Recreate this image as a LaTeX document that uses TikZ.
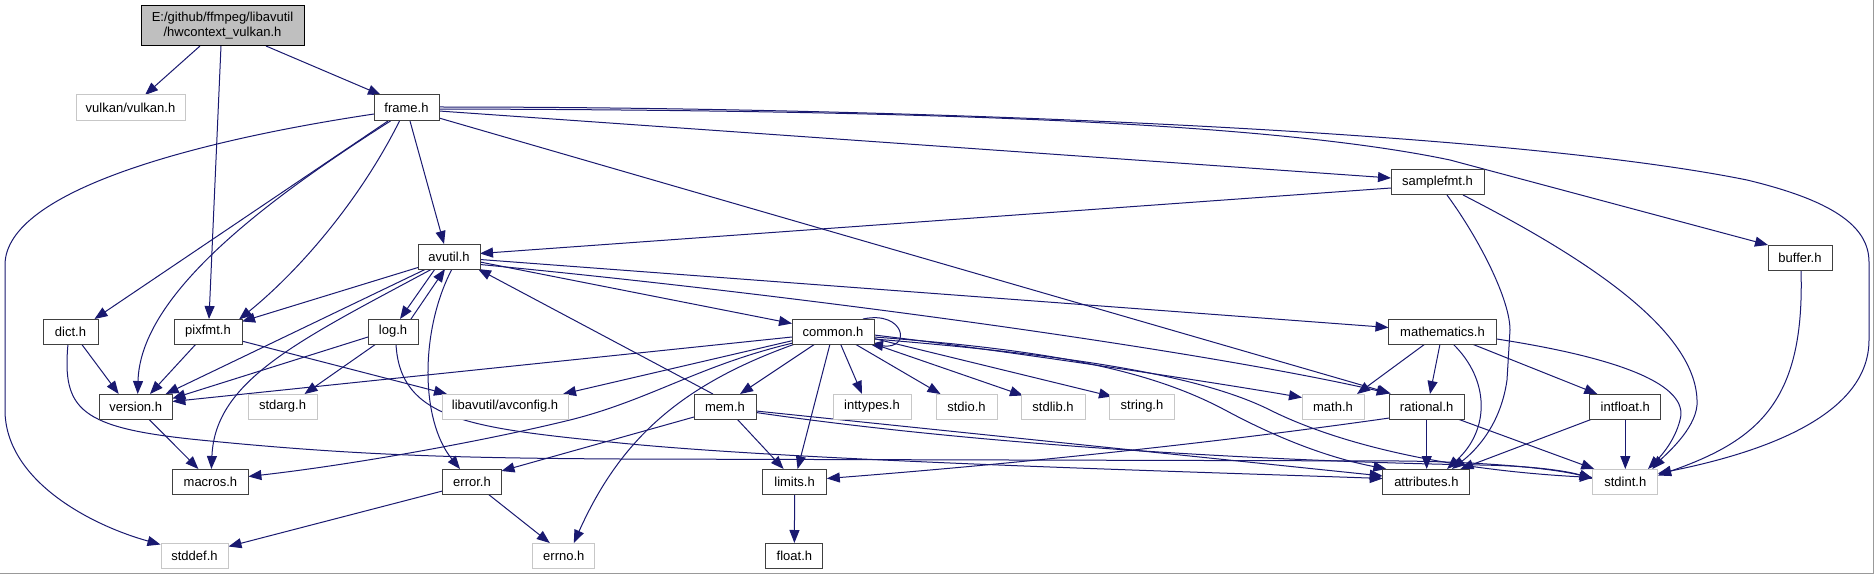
\documentclass[tikz,border=0pt]{standalone}
\usepackage{fontspec}
\setmainfont{Liberation Sans}
\usetikzlibrary{arrows.meta,calc,backgrounds}
\definecolor{edgec}{HTML}{191970}
\tikzset{
  box/.style={draw=black!75, fill=white, line width=1pt, inner sep=0pt, minimum height=25pt, font=\fontsize{13}{15}\selectfont, text=black},
  ext/.style={box, draw=black!22},
  hl/.style={box, draw=black, fill=black!25, align=center},
  edge/.style={draw=edgec, line width=1pt, -{Triangle[length=13pt,width=10pt]}},
}
\begin{document}
\begin{tikzpicture}[x=1pt,y=-1pt]
\useasboundingbox (0,0) rectangle (1875,575);
% nodes
\node[hl, minimum width=163pt, minimum height=40pt] (hwc) at (222.5,26) {E:/github/ffmpeg/libavutil\\/hwcontext\_vulkan.h};
\node[ext, minimum width=109pt, minimum height=26pt] (vulkan) at (130.5,108) {vulkan/vulkan.h};
\node[box, minimum width=65pt, minimum height=26pt] (frame) at (406.5,108) {frame.h};
\node[box, minimum width=62pt] (avutil) at (449,256.5) {avutil.h};
\node[box, minimum width=93pt] (samplefmt) at (1437.5,182.5) {samplefmt.h};
\node[box, minimum width=64pt] (buffer) at (1800,257.5) {buffer.h};
\node[box, minimum width=55pt] (dict) at (70.5,331.5) {dict.h};
\node[box, minimum width=68pt] (pixfmt) at (208,331.5) {pixfmt.h};
\node[box, minimum width=50pt] (log) at (393,331.5) {log.h};
\node[box, minimum width=82pt] (common) at (833,331.5) {common.h};
\node[box, minimum width=108pt] (mathematics) at (1442.5,331.5) {mathematics.h};
\node[box, minimum width=73pt] (version) at (135.7,406.5) {version.h};
\node[ext, minimum width=69pt] (stdarg) at (282.5,406.5) {stdarg.h};
\node[ext, minimum width=126pt] (avconfig) at (505,406.5) {libavutil/avconfig.h};
\node[box, minimum width=62pt] (mem) at (725,406.5) {mem.h};
\node[ext, minimum width=78pt] (inttypes) at (872,406.5) {inttypes.h};
\node[ext, minimum width=61pt] (stdio) at (966.5,406.5) {stdio.h};
\node[ext, minimum width=64pt] (stdlib) at (1053,406.5) {stdlib.h};
\node[ext, minimum width=65pt] (string) at (1142,406.5) {string.h};
\node[ext, minimum width=62pt] (math) at (1333,406.5) {math.h};
\node[box, minimum width=75pt] (rational) at (1426.7,406.5) {rational.h};
\node[box, minimum width=71pt] (intfloat) at (1625.3,406.5) {intfloat.h};
\node[box, minimum width=76pt] (macros) at (210.4,481.5) {macros.h};
\node[box, minimum width=59pt] (error) at (472,481.5) {error.h};
\node[box, minimum width=64pt] (limits) at (794.6,481.5) {limits.h};
\node[box, minimum width=87pt] (attributes) at (1426.4,481.5) {attributes.h};
\node[ext, minimum width=65pt] (stdint) at (1625.3,481.5) {stdint.h};
\node[ext, minimum width=67pt] (stddef) at (194.5,555.5) {stddef.h};
\node[ext, minimum width=62pt] (errno) at (563.8,555.5) {errno.h};
\node[box, minimum width=57pt] (float) at (794.4,555.5) {float.h};
\begin{scope}[on background layer]
\fill[white] (0,0) rectangle (1875,575);
\draw[black!40, line width=1pt] (0,573.5) -- (1873.5,573.5) -- (1873.5,0);
% hwcontext
\draw[edge] ($(hwc)+(-22.5,20)$) -- ($(vulkan)+(14.5,-13)$);
\draw[edge] ($(hwc)+(43.5,20)$) -- ($(frame)+(-25.5,-13)$);
\draw[edge] ($(hwc)+(-1.5,20)$) -- ($(pixfmt)+(1,-12.5)$);
% frame
\draw[edge] ($(frame)+(-32.5,6)$) .. controls (200,140) and (5,190) .. (5,265) -- (5,410) .. controls (5,480) and (90,525) .. ($(stddef)+(-34,-11)$);
\draw[edge] ($(frame)+(-18.5,13)$) -- ($(dict)+(24,-12.5)$);
\draw[edge] ($(frame)+(-16,13)$) .. controls (250,210) and (140,300) .. ($(version)+(2,-12.5)$);
\draw[edge] ($(frame)+(-7,13)$) .. controls (360,200) and (300,270) .. ($(pixfmt)+(31,-12)$);
\draw[edge] ($(frame)+(3.5,13)$) -- ($(avutil)+(-5,-12.5)$);
\draw[edge] ($(frame)+(32.5,3)$) -- ($(samplefmt)+(-46.5,-4.5)$);
\draw[edge] ($(frame)+(32.5,1)$) .. controls (850,110) and (1250,118) .. (1450,160) -- ($(buffer)+(-32,-12.5)$);
\draw[edge] ($(frame)+(32.5,-1)$) .. controls (900,107) and (1500,130) .. (1747,180) .. controls (1830,200) and (1869,225) .. (1869,262) -- (1869,340) .. controls (1869,420) and (1750,455) .. ($(stdint)+(32.7,-8)$);
\draw[edge] ($(frame)+(32.5,10)$) -- ($(rational)+(-36,-13)$);
% avutil
\draw[edge] ($(avutil)+(-31,11)$) -- ($(pixfmt)+(34,-10)$);
\draw[edge] ($(avutil)+(-23,12.5)$) -- ($(version)+(30,-12.5)$);
\draw[edge] ($(avutil)+(-17,12.5)$) .. controls (300,340) and (215,380) .. ($(macros)+(1,-12.5)$);
\draw[edge] ($(avutil)+(-14,12.5)$) -- ($(log)+(7,-12.5)$);
\draw[edge] ($(log)+(18,-12.5)$) -- ($(avutil)+(-4,12.5)$);
\draw[edge] ($(avutil)+(3,12.5)$) .. controls (420,330) and (420,420) .. ($(error)+(-12,-12.5)$);
\draw[edge] ($(avutil)+(31,5.5)$) -- ($(common)+(-41,-8)$);
\draw[edge] ($(avutil)+(31,8)$) .. controls (800,295) and (1200,350) .. ($(rational)+(-37,-13)$);
\draw[edge] ($(avutil)+(31,3)$) -- ($(mathematics)+(-54,-4)$);
\draw[edge] ($(mem)+(-12,-12.5)$) -- ($(avutil)+(29,12.5)$);
\draw[edge] ($(samplefmt)+(-46.5,5.5)$) -- ($(avutil)+(31,-3)$);
% log
\draw[edge] ($(log)+(-25,5.5)$) -- ($(version)+(36.7,-8)$);
\draw[edge] ($(log)+(-17,12.5)$) -- ($(stdarg)+(22,-12.5)$);
\draw[edge] ($(log)+(3,12.5)$) .. controls (400,420) and (470,428) .. (620,443) .. controls (800,461) and (1200,472) .. ($(attributes)+(-43.7,-3)$);
% pixfmt, dict, version, error
\draw[edge] ($(pixfmt)+(-12,12.5)$) -- ($(version)+(14.3,-12.5)$);
\draw[edge] ($(pixfmt)+(33.6,9.5)$) -- ($(avconfig)+(-58,-12.5)$);
\draw[edge] ($(dict)+(11,12.5)$) -- ($(version)+(-17,-12.5)$);
\draw[edge] ($(dict)+(-2.5,12.5)$) .. controls (62,410) and (80,428) .. (200,440) .. controls (350,455) and (450,458) .. (620,459) -- (1400,461) .. controls (1500,462) and (1560,470) .. ($(stdint)+(-32.6,-3)$);
\draw[edge] ($(version)+(13,12.5)$) -- ($(macros)+(-12,-12.5)$);
\draw[edge] ($(error)+(-29.5,9.5)$) -- ($(stddef)+(34,-9)$);
\draw[edge] ($(error)+(16,12.5)$) -- ($(errno)+(-14,-12.5)$);
% common
\draw[edge] ($(common)+(-41,5.5)$) -- ($(version)+(36.7,-5)$);
\draw[edge] ($(common)+(-40,9)$) -- ($(avconfig)+(58,-12.5)$);
\draw[edge] ($(common)+(-40,11.5)$) .. controls (700,365) and (650,400) .. (570,420) .. controls (480,442) and (350,465) .. ($(macros)+(38,-5)$);
\draw[edge] ($(common)+(-38,12.5)$) .. controls (680,385) and (620,440) .. ($(errno)+(10,-12.5)$);
\draw[edge] ($(common)+(-18,12.5)$) -- ($(mem)+(15,-12.5)$);
\draw[edge] ($(common)+(-3,12.5)$) -- ($(limits)+(3,-12.5)$);
\draw[edge] ($(common)+(7.5,12.5)$) -- ($(inttypes)+(-10,-12.5)$);
\draw[edge] ($(common)+(22,12.5)$) -- ($(stdio)+(-26,-12.5)$);
\draw[edge] ($(common)+(35,10.5)$) -- ($(stdlib)+(-30,-11)$);
\draw[edge] ($(common)+(41,7)$) -- ($(string)+(-30,-10)$);
\draw[edge] ($(common)+(30,-12.5)$) .. controls (905,310) and (912,350) .. ($(common)+(37,12.5)$);
\draw[edge] ($(common)+(41,3.5)$) .. controls (1000,350) and (1200,380) .. ($(math)+(-31,-9)$);
\draw[edge] ($(common)+(41,5.5)$) .. controls (1050,350) and (1150,370) .. (1225,410) .. controls (1290,445) and (1340,460) .. ($(attributes)+(-40,-12.5)$);
\draw[edge] ($(common)+(41,7.5)$) .. controls (1070,355) and (1200,375) .. (1270,410) .. controls (1340,445) and (1450,470) .. ($(stdint)+(-32.6,-4)$);
% mem
\draw[edge] ($(mem)+(31,4.5)$) -- ($(attributes)+(-43.7,-5.5)$);
\draw[edge] ($(mem)+(31,6)$) .. controls (1000,448) and (1300,462) .. (1480,465) .. controls (1540,466) and (1570,472) .. ($(stdint)+(-32.6,-3)$);
\draw[edge] ($(mem)+(-31,10.5)$) -- ($(error)+(29.5,-10.5)$);
\draw[edge] ($(mem)+(12,12.5)$) -- ($(limits)+(-11,-12.5)$);
% rational
\draw[edge] ($(rational)+(0,12.5)$) -- ($(attributes)+(0.3,-12.5)$);
\draw[edge] ($(rational)+(31,12.5)$) -- ($(stdint)+(-31,-12.5)$);
\draw[edge] ($(rational)+(-37.3,11.5)$) .. controls (1200,445) and (1000,465) .. ($(limits)+(32.2,-3)$);
% mathematics
\draw[edge] ($(mathematics)+(-17.5,12.5)$) -- ($(math)+(24,-12.5)$);
\draw[edge] ($(mathematics)+(-2.5,12.5)$) -- ($(rational)+(3.3,-12.5)$);
\draw[edge] ($(mathematics)+(10.5,12.5)$) .. controls (1490,380) and (1490,430) .. ($(attributes)+(20.6,-12.5)$);
\draw[edge] ($(mathematics)+(29.5,12.5)$) -- ($(intfloat)+(-28,-12.5)$);
\draw[edge] ($(mathematics)+(54.2,7.5)$) .. controls (1620,358) and (1690,385) .. (1680,420) .. controls (1675,440) and (1662,455) .. ($(stdint)+(22.7,-12.5)$);
% samplefmt
\draw[edge] ($(samplefmt)+(9.5,12.5)$) .. controls (1480,240) and (1510,300) .. (1510,330) -- (1507,380) .. controls (1500,430) and (1470,455) .. ($(attributes)+(25.6,-12.5)$);
\draw[edge] ($(samplefmt)+(25.5,12.5)$) .. controls (1580,255) and (1700,330) .. (1697,405) .. controls (1695,430) and (1665,455) .. ($(stdint)+(27,-12.5)$);
% intfloat, buffer, limits
\draw[edge] ($(intfloat)+(-33,12.5)$) -- ($(attributes)+(34,-12.5)$);
\draw[edge] ($(intfloat)+(0,12.5)$) -- ($(stdint)+(0,-12.5)$);
\draw[edge] ($(buffer)+(1,12.5)$) .. controls (1805,400) and (1760,440) .. ($(stdint)+(32.7,-6)$);
\draw[edge] ($(limits)+(0,12.5)$) -- ($(float)+(0,-12.5)$);
\end{scope}
\end{tikzpicture}
\end{document}
